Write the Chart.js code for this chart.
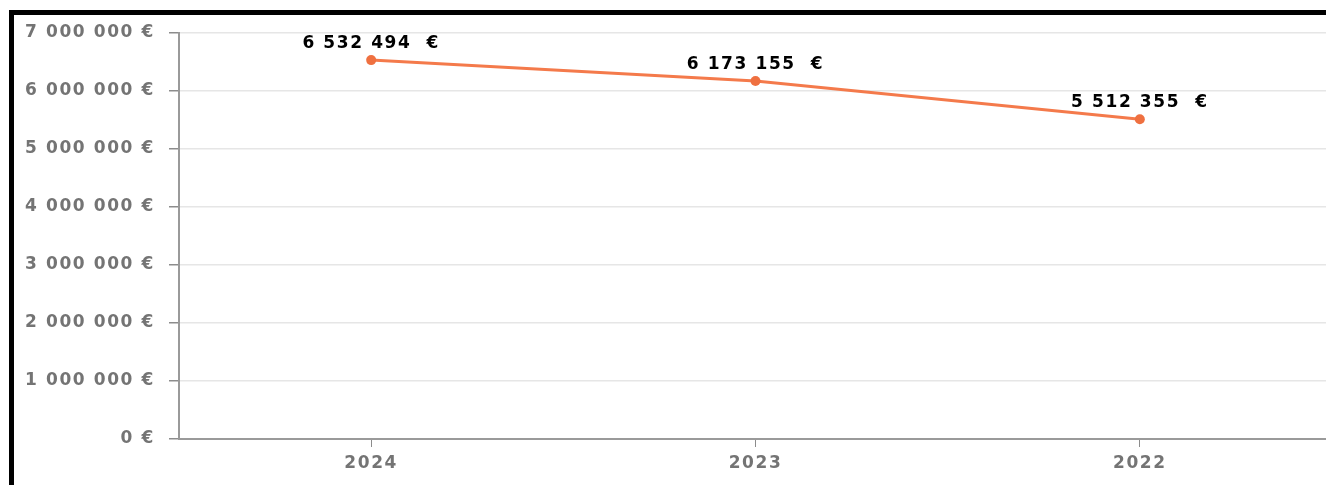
<!DOCTYPE html>
<html>
<head>
<meta charset="utf-8">
<script src="https://cdn.jsdelivr.net/npm/chart.js@4/dist/chart.umd.min.js"></script>
<style>
  html, body { margin: 0; padding: 0; background: #fff; overflow: hidden; }
  body { width: 1326px; height: 485px; position: relative; }
  #frame {
    position: absolute; left: 9px; top: 10px; right: 0; bottom: 0;
    border-top: 5px solid #000; border-left: 5px solid #000;
  }
  #wrap { position: absolute; left: 0; top: 0; width: 1337px; height: 485px; }
</style>
</head>
<body>
<div id="frame"></div>
<div id="wrap"><canvas id="c" width="1337" height="485"></canvas></div>
<script>
// Yearly amounts, most recent year first
const years = ['2024', '2023', '2022'];
const amounts = [6532494, 6173155, 5512355];
const yMin = 0;
const yMax = 7000000;
const yStep = 1000000;

function groupDigits(n) {
  return String(Math.round(n)).replace(/\B(?=(\d{3})+(?!\d))/g, ' ');
}
const tickText = v => groupDigits(v) + ' €';
const pointText = v => groupDigits(v) + '  €';

const FONT = '"DejaVu Sans", Verdana, sans-serif';
const LINE = '#f47a4b';

// Wider letter spacing for all text drawn on the canvas
const spacing = {
  id: 'spacing',
  beforeDraw(chart) { chart.ctx.letterSpacing = '1.6px'; },
  afterDraw(chart) { chart.ctx.letterSpacing = '0px'; }
};

// Value labels above each point
const valueLabels = {
  id: 'valueLabels',
  afterDatasetsDraw(chart) {
    const ctx = chart.ctx;
    const meta = chart.getDatasetMeta(0);
    ctx.save();
    ctx.letterSpacing = '1.6px';
    ctx.font = 'bold 17px ' + FONT;
    ctx.fillStyle = '#000';
    ctx.textAlign = 'center';
    ctx.textBaseline = 'alphabetic';
    meta.data.forEach((pt, i) => {
      ctx.fillText(pointText(chart.data.datasets[0].data[i]), pt.x, pt.y - 12);
    });
    ctx.restore();
  }
};

new Chart(document.getElementById('c'), {
  type: 'line',
  data: {
    labels: years,
    datasets: [{
      data: amounts,
      borderColor: LINE,
      backgroundColor: LINE,
      borderWidth: 3,
      pointRadius: 5,
      pointBackgroundColor: '#ef7040',
      pointBorderColor: '#ef7040',
      pointBorderWidth: 0,
      tension: 0,
      fill: false
    }]
  },
  options: {
    responsive: false,
    animation: false,
    events: [],
    layout: { padding: { top: 33, right: 0, bottom: 0, left: 0 } },
    plugins: { legend: { display: false }, tooltip: { enabled: false } },
    scales: {
      x: {
        offset: true,
        grid: { drawOnChartArea: false, tickLength: 8, tickColor: '#8c8c8c', lineWidth: 1 },
        border: { color: '#9a9a9a', width: 2 },
        ticks: { color: '#747474', padding: 6, font: { family: FONT, size: 17, weight: 'bold' } },
        afterFit(scale) { scale.height = 46; }
      },
      y: {
        min: yMin,
        max: yMax,
        grid: { color: '#e6e6e6', lineWidth: 1.5, tickLength: 10, tickColor: '#8c8c8c' },
        border: { color: '#9a9a9a', width: 2 },
        ticks: {
          stepSize: yStep,
          color: '#747474',
          padding: 14,
          font: { family: FONT, size: 17, weight: 'bold' },
          callback: v => tickText(v)
        },
        afterFit(scale) { scale.width = 179; }
      }
    }
  },
  plugins: [spacing, valueLabels]
});
</script>
</body>
</html>
